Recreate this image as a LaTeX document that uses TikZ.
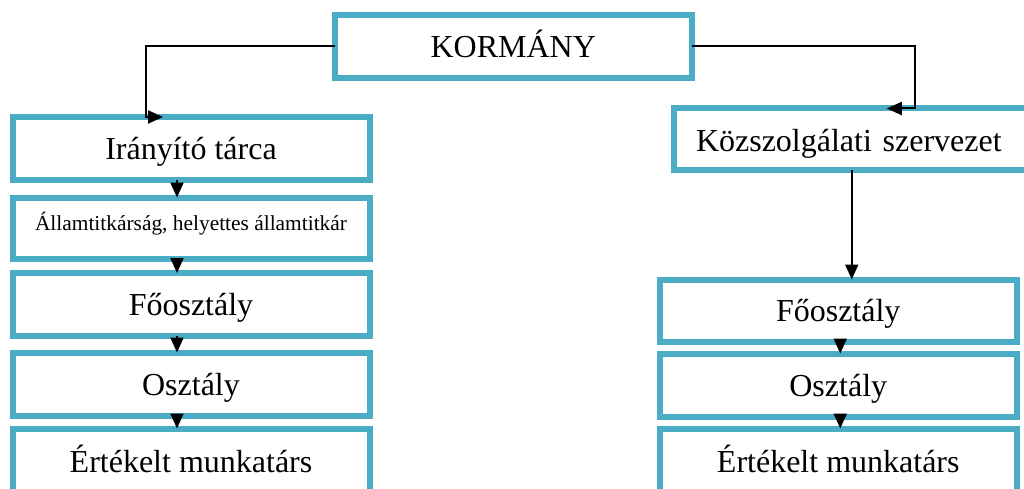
\documentclass[tikz,border=0pt]{standalone}
\usepackage{fontspec}
\setmainfont{Liberation Serif}
\usetikzlibrary{arrows.meta}
\definecolor{frame}{HTML}{4BACC6}
\begin{document}
\begin{tikzpicture}[x=1pt,y=-1pt,
  box/.style={draw=frame, line width=6pt, rectangle, outer sep=0pt, inner sep=0pt,
    minimum width=357pt, minimum height=63pt, font=\fontsize{32}{38}\selectfont,
    text height=28pt, text depth=6pt},
  link/.style={draw=black, line width=2pt, -{Triangle[length=15pt,width=13pt]}}]
\useasboundingbox (0,0) rectangle (1024,489);

% top level
\node[box, minimum width=356.5pt] (kor) at (513.25,46.5) {KORMÁNY};

% left column
\node[box] (ira) at (191,148.5) {Irányító tárca};
\node[box, minimum height=61.5pt, font=\fontsize{21.4}{25}\selectfont,
      text height=15pt, text depth=10pt] (all) at (191,228.25)
      {Államtitkárság, helyettes államtitkár};
\node[box] (fo1) at (191,304.5) {Főosztály};
\node[box, minimum height=63.5pt] (osz1) at (191,384.25) {Osztály};
\node[box, minimum height=66.5pt] (ert1) at (191,461.75) {Értékelt munkatárs};

% right column
\node[box, minimum width=356.5pt, minimum height=62pt, inner xsep=22.5pt,
      text width=311.5pt, align=left, text height=30pt, text depth=5pt]
      (kozs) at (851.75,139.5) {Közszolgálati szervezet};
\node[box, minimum width=357.5pt, minimum height=62pt] (fo2) at (838.25,310.5) {Főosztály};
\node[box, minimum width=357.5pt] (osz2) at (838.25,385) {Osztály};
\node[box, minimum width=357.5pt, minimum height=66.5pt] (ert2) at (838.25,461.75) {Értékelt munkatárs};

% connectors from the top
\draw[link] (kor.west) -| ([xshift=-45pt]ira.north) -- ([xshift=-28pt]ira.north);
\draw[link] (kor.east) -| ([xshift=63pt]kozs.north) -- ([xshift=35pt]kozs.north);

% left chain
\draw[link] ([xshift=-14pt]ira.south) -- ([xshift=-14pt]all.north);
\draw[link] ([xshift=-14pt]all.south) -- ([xshift=-14pt]fo1.north);
\draw[link] ([xshift=-14pt]fo1.south) -- ([xshift=-14pt]osz1.north);
\draw[link] ([xshift=-14pt]osz1.south) -- ([xshift=-14pt]ert1.north);

% right chain
\draw[link] (kozs.south) -- (kozs.south |- fo2.north);
\draw[link] ([xshift=2pt]fo2.south) -- ([xshift=2pt]osz2.north);
\draw[link] ([xshift=2pt]osz2.south) -- ([xshift=2pt]ert2.north);
\end{tikzpicture}
\end{document}
